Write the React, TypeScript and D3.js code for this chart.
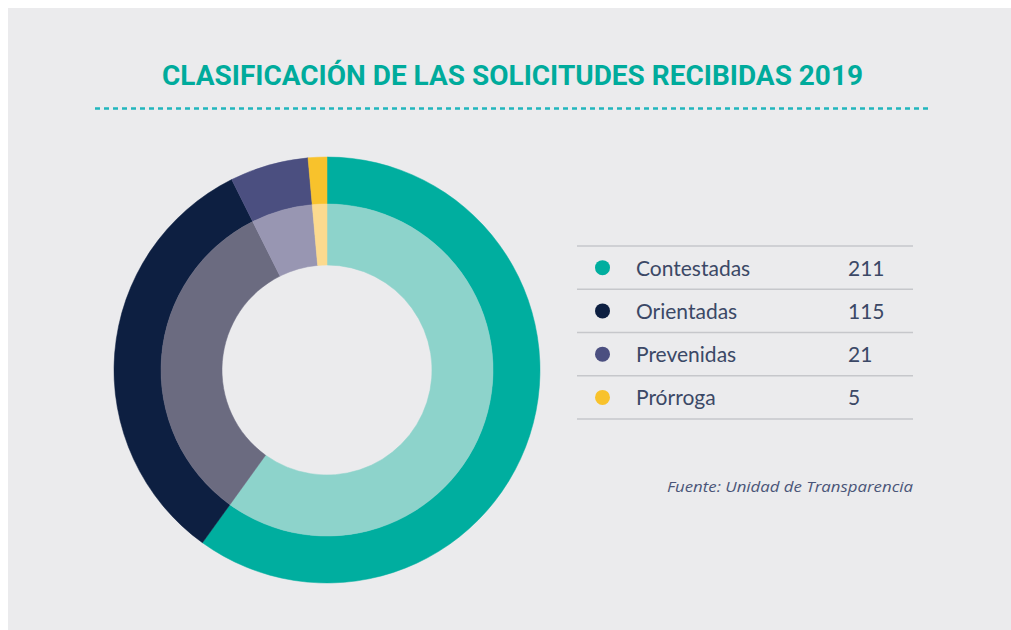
import React, { useEffect, useRef } from 'react';
import * as d3 from 'd3';

const categories = ['Contestadas', 'Orientadas', 'Prevenidas', 'Prórroga'];
const values = [211, 115, 21, 5];
const outerColors = ['#00ae9f', '#0d1f41', '#4b4f80', '#f8c22c'];
const innerColors = ['#8dd3cb', '#6b6b80', '#9896b2', '#fcda8f'];

const title = 'CLASIFICACIÓN DE LAS SOLICITUDES RECIBIDAS 2019';
const source = 'Fuente: Unidad de Transparencia';

const W = 1003;
const H = 622;

const App: React.FC = () => {
  const svgRef = useRef<SVGSVGElement>(null);

  useEffect(() => {
    if (!svgRef.current) return;
    const svg = d3.select(svgRef.current);
    svg.selectAll('*').remove();

    // panel background
    svg.append('rect').attr('width', W).attr('height', H).attr('fill', '#ebebed');

    // title (svg coords are page coords minus 8)
    svg.append('text')
      .attr('x', 154)
      .attr('y', 77)
      .attr('textLength', 701)
      .attr('lengthAdjust', 'spacingAndGlyphs')
      .attr('font-family', 'Roboto, sans-serif')
      .attr('font-weight', 700)
      .attr('font-size', 28.5)
      .attr('fill', '#00ab9c')
      .text(title);

    svg.append('line')
      .attr('x1', 87).attr('x2', 923)
      .attr('y1', 100.5).attr('y2', 100.5)
      .attr('stroke', '#22b6bd')
      .attr('stroke-width', 2.5)
      .attr('stroke-dasharray', '5 4');

    // donut
    const cx = 319, cy = 362;
    const pie = d3.pie<number>().sort(null).value(d => d);
    const arcs = pie(values);
    const outerArc = d3.arc<d3.PieArcDatum<number>>().innerRadius(166).outerRadius(213);
    const innerArc = d3.arc<d3.PieArcDatum<number>>().innerRadius(105).outerRadius(166);

    const g = svg.append('g').attr('transform', `translate(${cx},${cy})`);
    g.selectAll('path.outer')
      .data(arcs)
      .join('path')
      .attr('class', 'outer')
      .attr('d', outerArc)
      .attr('fill', (_, i) => outerColors[i])
      .attr('stroke', (_, i) => outerColors[i])
      .attr('stroke-width', 0.5);
    g.selectAll('path.inner')
      .data(arcs)
      .join('path')
      .attr('class', 'inner')
      .attr('d', innerArc)
      .attr('fill', (_, i) => innerColors[i])
      .attr('stroke', (_, i) => innerColors[i])
      .attr('stroke-width', 0.5);

    // legend table
    const rowY = d3.scaleLinear().domain([0, categories.length]).range([238, 411]);
    const lx0 = 569, lx1 = 905;
    const legend = svg.append('g');
    d3.range(categories.length + 1).forEach(i => {
      legend.append('line')
        .attr('x1', lx0).attr('x2', lx1)
        .attr('y1', rowY(i)).attr('y2', rowY(i))
        .attr('stroke', '#c6c7cb')
        .attr('stroke-width', 1.5);
    });
    categories.forEach((c, i) => {
      const mid = (rowY(i) + rowY(i + 1)) / 2;
      legend.append('circle')
        .attr('cx', 594.5).attr('cy', mid)
        .attr('r', 7.5)
        .attr('fill', outerColors[i]);
      legend.append('text')
        .attr('x', 628).attr('y', mid + 8)
        .attr('font-family', 'Lato, sans-serif')
        .attr('font-size', 21)
        .attr('fill', '#3b4866')
        .text(c);
      legend.append('text')
        .attr('x', 840).attr('y', mid + 8)
        .attr('font-family', 'Lato, sans-serif')
        .attr('font-size', 21)
        .attr('fill', '#3b4866')
        .text(values[i]);
    });

    svg.append('text')
      .attr('x', 659).attr('y', 483.5)
      .attr('textLength', 246)
      .attr('lengthAdjust', 'spacingAndGlyphs')
      .attr('font-family', '"Open Sans", sans-serif')
      .attr('font-style', 'italic')
      .attr('font-size', 14.5)
      .attr('fill', '#4a5578')
      .text(source);
  }, []);

  return (
    <div style={{ position: 'absolute', left: 8, top: 8, width: W, height: H }}>
      <svg ref={svgRef} width={W} height={H} style={{ display: 'block' }} />
    </div>
  );
};

export default App;
